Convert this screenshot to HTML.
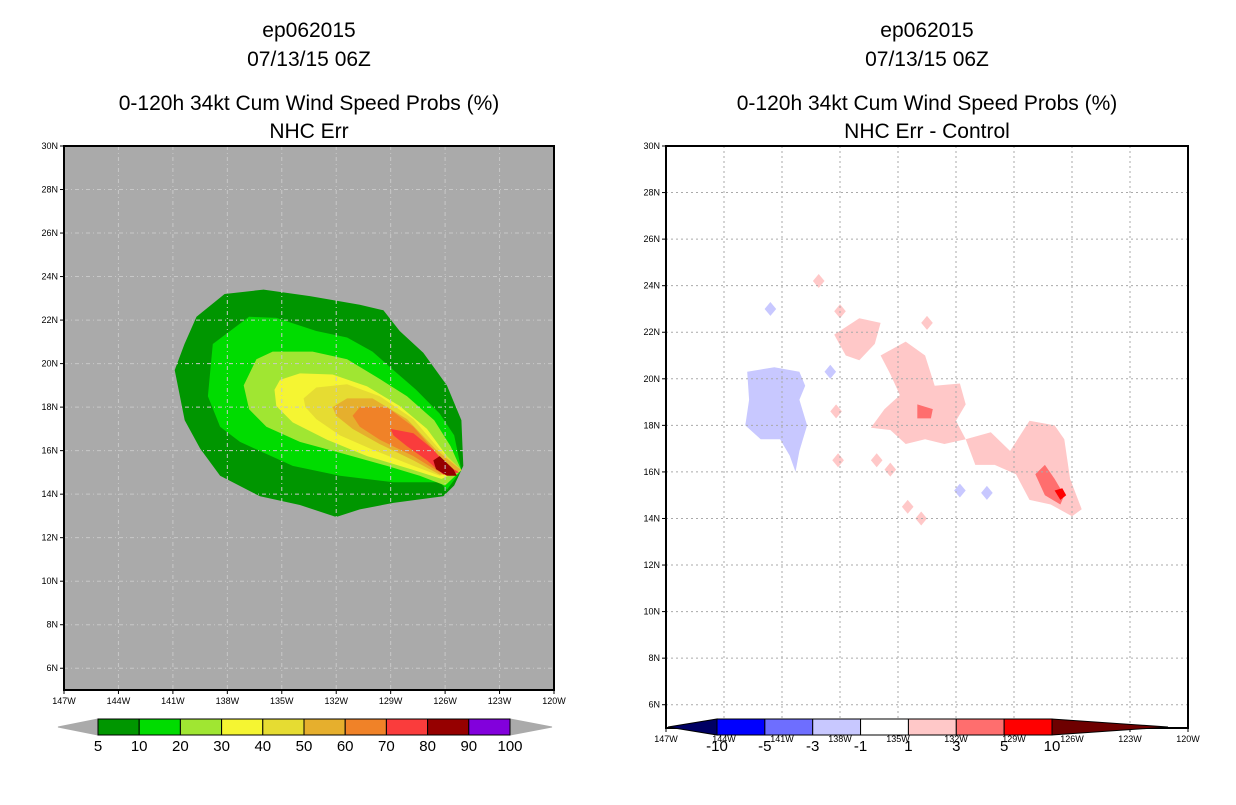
<!DOCTYPE html>
<html><head><meta charset="utf-8">
<style>
html,body{margin:0;padding:0;background:#fff;}
body{width:1236px;height:800px;overflow:hidden;font-family:"Liberation Sans",sans-serif;}
svg text{font-family:"Liberation Sans",sans-serif;}
</style></head>
<body>
<svg id="chart" width="1236" height="800" viewBox="0 0 1236 800" xmlns="http://www.w3.org/2000/svg">
<g font-size="21" text-anchor="middle" fill="#000">
<text x="309" y="37">ep062015</text>
<text x="309" y="66">07/13/15 06Z</text>
<text x="309" y="110">0-120h 34kt Cum Wind Speed Probs (%)</text>
<text x="309" y="138">NHC Err</text>
</g>
<g font-size="21" text-anchor="middle" fill="#000">
<text x="927" y="37">ep062015</text>
<text x="927" y="66">07/13/15 06Z</text>
<text x="927" y="110">0-120h 34kt Cum Wind Speed Probs (%)</text>
<text x="927" y="138">NHC Err - Control</text>
</g>
<g id="left"></g>
<g id="right"></g>
</svg>
<script>
const NS="http://www.w3.org/2000/svg";
const lonTicks=[-147,-144,-141,-138,-135,-132,-129,-126,-123,-120];
const latTicks=[6,8,10,12,14,16,18,20,22,24,26,28,30];
const leftLevels=[5,10,20,30,40,50,60,70,80,90,100];
const leftColors=["#009600","#00dc00","#a0e632","#f5f532","#e6dc32","#e6af2d","#f08228","#fa3c3c","#960000","#8200dc"];
const rightLevels=["-10","-5","-3","-1","1","3","5","10"];
const rightColors=["#0000ff","#6e6eff","#c8c8ff","#ffffff","#ffc8c8","#ff6e6e","#ff0000"];
// left contour polygons [lon,lat], outermost first
const leftContours=[
 [[-140.9,19.7],[-140.36,20.9],[-139.7,22.15],[-138.15,23.2],[-136.0,23.4],[-133.45,23.1],[-130.7,22.7],[-129.4,22.45],[-128.5,21.5],[-127.2,20.5],[-125.9,19.0],[-125.1,17.4],[-125.0,15.3],[-125.5,14.4],[-126.1,13.9],[-128.85,13.6],[-130.7,13.3],[-132.0,12.95],[-134.0,13.5],[-136.2,13.9],[-138.4,14.85],[-139.5,16.1],[-140.35,17.4]],
 [[-139.07,18.5],[-138.8,20.9],[-136.8,22.15],[-135.3,22.1],[-133.1,21.5],[-131.4,21.2],[-130.0,20.55],[-128.85,19.7],[-127.6,18.8],[-126.3,17.7],[-125.5,16.7],[-125.1,15.1],[-125.9,14.2],[-126.3,14.55],[-128.85,14.55],[-131.8,14.85],[-134.4,15.3],[-137.3,16.4],[-138.4,17.1]],
 [[-137.1,19.0],[-136.4,20.2],[-135.5,20.55],[-133.3,20.55],[-131.4,20.2],[-129.8,19.4],[-128.1,18.5],[-126.6,17.4],[-125.7,16.2],[-125.1,15.1],[-126.0,14.4],[-127.4,14.85],[-129.2,15.3],[-131.8,15.9],[-134.0,16.4],[-135.85,17.1],[-136.8,17.9]],
 [[-135.4,18.8],[-135.1,19.25],[-134.0,19.55],[-132.2,19.5],[-130.3,18.95],[-128.5,18.05],[-127.0,17.0],[-125.9,15.75],[-125.1,15.1],[-126.2,14.7],[-127.9,15.15],[-130.3,15.75],[-132.5,16.5],[-134.4,17.3],[-135.3,18.05]],
 [[-133.8,18.4],[-133.1,18.9],[-131.4,19.05],[-129.6,18.5],[-127.75,17.45],[-126.3,16.05],[-125.1,15.1],[-126.3,14.85],[-127.75,15.3],[-130.0,16.05],[-131.8,16.7],[-133.1,17.45],[-133.7,18.0]],
 [[-132.2,18.0],[-131.4,18.4],[-130.0,18.4],[-128.1,17.45],[-126.5,16.05],[-125.1,15.1],[-126.3,14.9],[-127.75,15.55],[-129.6,16.3],[-131.1,17.0],[-132.0,17.6]],
 [[-131.1,17.6],[-130.7,18.0],[-129.2,18.0],[-127.75,17.1],[-126.5,15.9],[-125.4,15.0],[-126.3,15.0],[-127.75,15.75],[-129.6,16.5],[-130.7,17.1]],
 [[-129.0,17.0],[-127.75,16.8],[-126.65,16.05],[-125.9,15.3],[-125.2,15.0],[-126.1,14.9],[-127.0,15.55],[-128.1,16.2],[-128.85,16.7]],
 [[-126.65,15.55],[-126.3,15.75],[-125.55,15.15],[-125.35,14.85],[-125.9,14.85],[-126.5,15.15]]
];
const leftContourLevelIdx=[0,1,2,3,4,5,6,7,8];
// right difference polygons [lon,lat] with class index into rightColors
const rightPolys=[
 {c:2,p:[[-142.8,20.3],[-141.4,20.5],[-140.1,20.3],[-139.8,19.7],[-140.1,19.1],[-139.7,18.0],[-140.1,16.9],[-140.3,16.0],[-140.6,16.7],[-141.1,17.4],[-142.1,17.4],[-142.9,18.0],[-142.7,19.1]]},
 {c:4,p:[[-138.3,21.9],[-137.0,22.6],[-135.9,22.4],[-136.2,21.5],[-137.0,20.8],[-137.7,21.0]]},
 {c:4,p:[[-135.9,21.0],[-134.6,21.6],[-133.6,21.0],[-133.1,19.7],[-131.8,19.8],[-131.5,18.9],[-132.0,18.2],[-131.5,17.4],[-132.6,17.2],[-133.6,17.4],[-134.6,17.2],[-135.4,17.8],[-136.4,17.9],[-135.7,18.7],[-134.9,19.3],[-135.4,20.2]]},
 {c:4,p:[[-131.5,17.4],[-130.2,17.7],[-129.2,16.9],[-128.2,18.2],[-126.9,18.0],[-126.4,17.4],[-126.1,15.7],[-125.5,14.4],[-126.0,14.1],[-127.1,14.6],[-128.2,14.8],[-128.9,15.9],[-130.0,16.3],[-131.0,16.3]]},
 {c:5,p:[[-127.9,15.9],[-127.4,16.3],[-126.9,15.7],[-126.4,15.0],[-126.6,14.6],[-127.4,15.0]]},
 {c:6,p:[[-126.9,15.2],[-126.5,15.3],[-126.3,15.0],[-126.6,14.8]]},
 {c:5,p:[[-134.0,18.9],[-133.2,18.7],[-133.3,18.3],[-134.0,18.3]]}
];
const rightPinkDots=[[-139.1,24.2],[-138.0,22.9],[-133.5,22.4],[-138.2,18.6],[-138.1,16.5],[-136.1,16.5],[-135.4,16.1],[-134.5,14.5],[-133.8,14.0]];
const rightBlueDots=[[-141.6,23.0],[-138.5,20.3],[-131.8,15.2],[-130.4,15.1]];

function mk(tag,attrs,parent){const e=document.createElementNS(NS,tag);for(const k in attrs)e.setAttribute(k,attrs[k]);parent.appendChild(e);return e;}
function axes(x0,x1,y0,y1){
 return {x:lon=>x0+(lon+147)/27*(x1-x0), y:lat=>y1-(lat-5)/25*(y1-y0)};
}
function poly(g,pts,ax,fill){
 return mk('polygon',{points:pts.map(p=>ax.x(p[0]).toFixed(1)+','+ax.y(p[1]).toFixed(1)).join(' '),fill:fill},g);
}
function frameAndTicks(g,ax,x0,x1,y0,y1,gridStyle){
 const gg=mk('g',{},g);
 
 
 lonTicks.slice(1,-1).forEach(l=>mk('line',{x1:ax.x(l),x2:ax.x(l),y1:y0,y2:y1,stroke:gridStyle.c,'stroke-width':1,'stroke-dasharray':gridStyle.d},gg));
 latTicks.slice(0,-1).forEach(l=>mk('line',{x1:x0,x2:x1,y1:ax.y(l),y2:ax.y(l),stroke:gridStyle.c,'stroke-width':1,'stroke-dasharray':gridStyle.d},gg));
 const fr=mk('rect',{x:x0,y:y0,width:x1-x0,height:y1-y0,fill:'none',stroke:'#000','stroke-width':2},g);
 
 
 const yt=mk('g',{'font-size':9,'text-anchor':'end'},g);
 
 
 latTicks.forEach(l=>{const y=ax.y(l);mk('line',{x1:x0-4,x2:x0,y1:y,y2:y,stroke:'#000'},yt);const t=mk('text',{x:x0-6,y:y+3},yt);t.textContent=l+'N';});
 const xt=mk('g',{'font-size':9,'text-anchor':'middle'},g);
 
 
 lonTicks.forEach(l=>{const x=ax.x(l);mk('line',{x1:x,x2:x,y1:y1,y2:y1+4,stroke:'#000'},xt);const t=mk('text',{x:x,y:y1+14},xt);t.textContent=(-l)+'W';});
}
// LEFT
(function(){
 const g=document.getElementById('left');
 const x0=64,x1=554,y0=146,y1=690;const ax=axes(x0,x1,y0,y1);
 const bg=mk('rect',{x:x0,y:y0,width:x1-x0,height:y1-y0,fill:'#aaaaaa'},g);
 
 
 leftContours.forEach((pts,i)=>{const e=poly(g,pts,ax,leftColors[leftContourLevelIdx[i]]);
  
  });
 frameAndTicks(g,ax,x0,x1,y0,y1,{c:'#c8c8c8',d:'4 3 1 3'});
 const cb=mk('g',{},g);
 
 
 const bx0=98,bx1=510,by0=719,by1=735,n=leftColors.length,w=(bx1-bx0)/n;
 mk('polygon',{points:`58,727 ${bx0},${by0} ${bx0},${by1}`,fill:'#aaaaaa',stroke:'#aaaaaa'},cb);
 mk('polygon',{points:`552,727 ${bx1},${by0} ${bx1},${by1}`,fill:'#aaaaaa',stroke:'#aaaaaa'},cb);
 leftColors.forEach((c,i)=>{const r=mk('rect',{x:bx0+i*w,y:by0,width:w,height:by1-by0,fill:c,stroke:'#000','stroke-width':1},cb);
  
  });
 leftLevels.forEach((v,i)=>{const t=mk('text',{x:bx0+i*w,y:751,'font-size':15,'text-anchor':'middle'},cb);t.textContent=v;});
})();
// RIGHT
(function(){
 const g=document.getElementById('right');
 const x0=666,x1=1188,y0=146,y1=728;const ax=axes(x0,x1,y0,y1);
 rightPolys.forEach((o,i)=>{const e=poly(g,o.p,ax,rightColors[o.c]);
  
  });
 const d=0.3;
 rightPinkDots.forEach(p=>{const e=poly(g,[[p[0]-d,p[1]],[p[0],p[1]+d],[p[0]+d,p[1]],[p[0],p[1]-d]],ax,rightColors[4]);
  
  });
 rightBlueDots.forEach(p=>{const e=poly(g,[[p[0]-d,p[1]],[p[0],p[1]+d],[p[0]+d,p[1]],[p[0],p[1]-d]],ax,rightColors[2]);
  
  });
 frameAndTicks(g,ax,x0,x1,y0,y1,{c:'#aaaaaa',d:'2 3'});
 const cb=mk('g',{},g);
 
 
 const bx0=717,bx1=1052,by0=719,by1=735,n=rightColors.length,w=(bx1-bx0)/n;
 mk('polygon',{points:`668,727 ${bx0},${by0} ${bx0},${by1}`,fill:'#000064',stroke:'#000'},cb);
 mk('polygon',{points:`1168,727 ${bx1},${by0} ${bx1},${by1}`,fill:'#6e0000',stroke:'#000'},cb);
 rightColors.forEach((c,i)=>{const r=mk('rect',{x:bx0+i*w,y:by0,width:w,height:by1-by0,fill:c,stroke:'#000','stroke-width':1},cb);
  
  });
 rightLevels.forEach((v,i)=>{const t=mk('text',{x:bx0+i*w,y:751,'font-size':15,'text-anchor':'middle'},cb);t.textContent=v;});
})();
</script>
</body></html>
